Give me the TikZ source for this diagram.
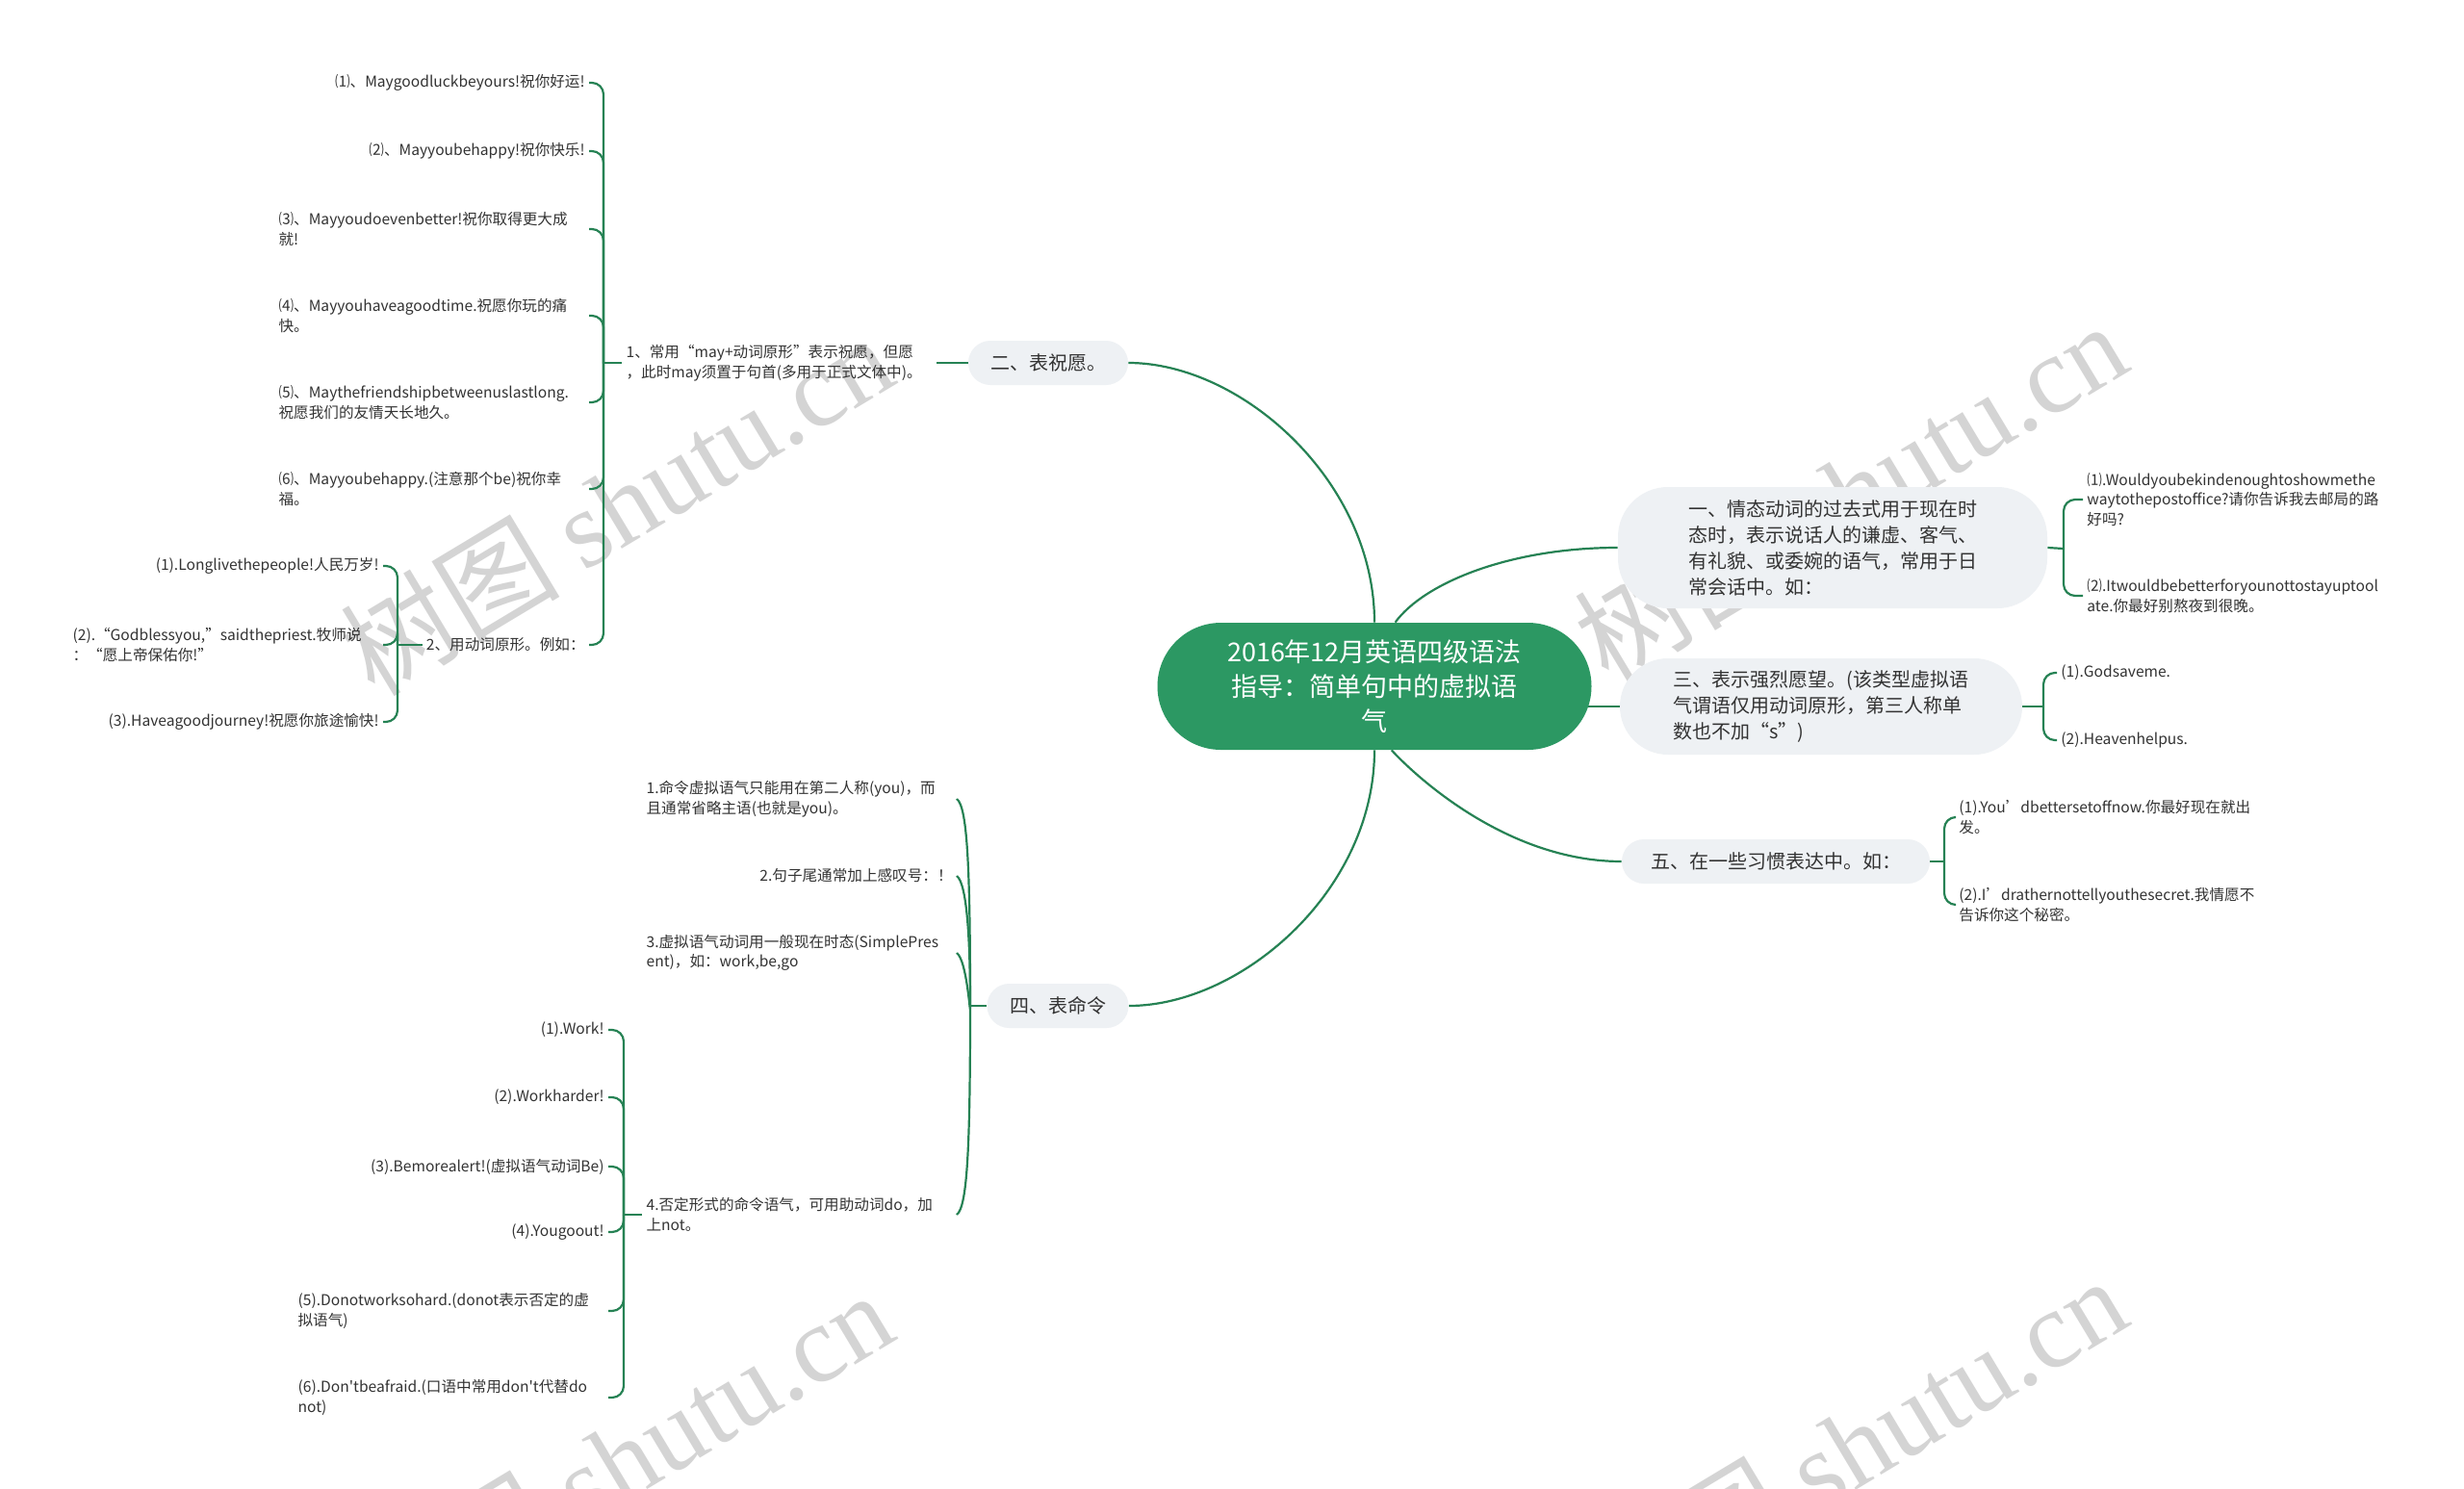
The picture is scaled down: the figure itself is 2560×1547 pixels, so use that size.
\documentclass[tikz,border=0pt]{standalone}
\usepackage{fontspec}
\setmainfont{Noto Sans CJK SC}[Ligatures=TeXOff]
\newfontfamily\wmserif{Liberation Serif}
\usetikzlibrary{calc}
\definecolor{lineG}{RGB}{38,130,84}
\definecolor{rootG}{RGB}{44,152,99}
\definecolor{boxG}{RGB}{238,241,244}
\definecolor{txt}{RGB}{51,51,51}
\definecolor{wmc}{RGB}{212,212,212}
\pgfdeclarelayer{wm}
\pgfdeclarelayer{bg}
\pgfsetlayers{wm,bg,main}
\tikzset{
  conn/.style={draw=lineG, line width=1.1pt},
  hook/.style={draw=lineG, line width=1.1pt, rounded corners=6pt},
  root/.style={fill=rootG, text=white, rounded corners=33pt, minimum width=225.5pt,
    minimum height=66pt, align=center, font=\fontsize{13.5pt}{18pt}\selectfont, inner sep=0pt},
  topic/.style={fill=boxG, text=txt, align=left, font=\fontsize{10pt}{13.5pt}\selectfont, inner sep=0pt},
  leafbase/.style={text=txt, font=\fontsize{7.8pt}{10.25pt}\selectfont, inner sep=2pt},
  sgl/.style={leafbase, anchor=east, align=right},
  wrp/.style={leafbase, anchor=east, text width=159pt, align=left},
  rgt/.style={leafbase, anchor=west, align=left},
  wmark/.style={text=wmc, rotate=31, font=\fontsize{57pt}{60pt}\selectfont, inner sep=0pt},
}
\begin{document}
\begin{tikzpicture}[x=0.5pt, y=-0.5pt]
\useasboundingbox (0,0) rectangle (2560,1547);
\begin{pgfonlayer}{wm}
\fill[white] (0,0) rectangle (2560,1547);
\node[wmark] (w1) at (640,524) {树图 {\wmserif shutu.cn}};
\node[wmark] (w2) at (1922,510) {树图 {\wmserif shutu.cn}};
\node[wmark] (w3) at (640,1517) {树图 {\wmserif shutu.cn}};
\node[wmark] (w4) at (1922,1502) {树图 {\wmserif shutu.cn}};
\end{pgfonlayer}

% root
\node[root] (C) at (1428,713) {2016年12月英语四级语法\\指导：简单句中的虚拟语\\气};

% main topics
\node[topic, minimum width=83pt, minimum height=23pt, rounded corners=11.5pt, align=center] (n2) at (1089,377) {二、表祝愿。};
\node[topic, minimum width=73.5pt, minimum height=23pt, rounded corners=11.5pt, align=center] (n4) at (1099,1045) {四、表命令};
\node[topic, minimum width=223pt, minimum height=63pt, rounded corners=26pt] (n1) at (1904,569) {一、情态动词的过去式用于现在时\\态时，表示说话人的谦虚、客气、\\有礼貌、或委婉的语气，常用于日\\常会话中。如：};
\node[topic, minimum width=209pt, minimum height=50pt, rounded corners=25pt] (n3) at (1892,734) {三、表示强烈愿望。(该类型虚拟语\\气谓语仅用动词原形，第三人称单\\数也不加“s”)};
\node[topic, minimum width=160pt, minimum height=23pt, rounded corners=11.5pt, align=center] (n5) at (1845,895) {五、在一些习惯表达中。如：};

% group under 二
\node[wrp] (a1) at (973,377) {1、常用“may+动词原形”表示祝愿，但愿\\，此时may须置于句首(多用于正式文体中)。};
\node[sgl] (b1) at (612,86) {⑴、Maygoodluckbeyours!祝你好运!};
\node[sgl] (b2) at (612,157) {⑵、Mayyoubehappy!祝你快乐!};
\node[wrp] (b3) at (612,238) {⑶、Mayyoudoevenbetter!祝你取得更大成\\就!};
\node[wrp] (b4) at (612,328) {⑷、Mayyouhaveagoodtime.祝愿你玩的痛\\快。};
\node[wrp] (b5) at (612,418) {⑸、Maythefriendshipbetweenuslastlong.\\祝愿我们的友情天长地久。};
\node[wrp] (b6) at (612,508) {⑹、Mayyoubehappy.(注意那个be)祝你幸\\福。};
\node[sgl] (a2) at (612,670) {2、用动词原形。例如：};
\node[sgl] (c1) at (398,588) {(1).Longlivethepeople!人民万岁!};
\node[wrp] (c2) at (398,670) {(2).“Godblessyou,”saidthepriest.牧师说\\：“愿上帝保佑你!”};
\node[sgl] (c3) at (398,750) {(3).Haveagoodjourney!祝愿你旅途愉快!};

% group under 四
\node[wrp] (d1) at (994,830) {1.命令虚拟语气只能用在第二人称(you)，而\\且通常省略主语(也就是you)。};
\node[sgl] (d2) at (994,910) {2.句子尾通常加上感叹号：！};
\node[wrp] (d3) at (994,990) {3.虚拟语气动词用一般现在时态(SimplePres\\ent)，如：work,be,go};
\node[wrp] (d4) at (994,1262) {4.否定形式的命令语气，可用助动词do，加\\上not。};
\node[sgl] (e1) at (632,1070) {(1).Work!};
\node[sgl] (e2) at (632,1140) {(2).Workharder!};
\node[sgl] (e3) at (632,1212) {(3).Bemorealert!(虚拟语气动词Be)};
\node[sgl] (e4) at (632,1280) {(4).Yougoout!};
\node[wrp] (e5) at (632,1362) {(5).Donotworksohard.(donot表示否定的虚\\拟语气)};
\node[wrp] (e6) at (632,1452) {(6).Don'tbeafraid.(口语中常用don't代替do\\not)};

% right groups
\node[rgt] (f1) at (2164,519) {⑴.Wouldyoubekindenoughtoshowmethe\\waytothepostoffice?请你告诉我去邮局的路\\好吗?};
\node[rgt] (f2) at (2164,619) {⑵.Itwouldbebetterforyounottostayuptool\\ate.你最好别熬夜到很晚。};
\node[rgt] (g1) at (2137,699) {(1).Godsaveme.};
\node[rgt] (g2) at (2137,769) {(2).Heavenhelpus.};
\node[rgt] (h1) at (2031,849) {(1).You’dbettersetoffnow.你最好现在就出\\发。};
\node[rgt] (h2) at (2031,940) {(2).I’drathernottellyouthesecret.我情愿不\\告诉你这个秘密。};

% junctions
\coordinate (JA) at (627,377);
\coordinate (JB) at (413,670);
\coordinate (JD) at (1008,1045);
\coordinate (JE) at (648,1262);
\coordinate (JF) at (2144,570);
\coordinate (JG) at (2123,734);
\coordinate (JH) at (2020,895);

\begin{pgfonlayer}{bg}
% root connectors
\draw[conn] (C.north) .. controls (1428,500) and (1290,377) .. (n2.east);
\draw[conn] (C.south) .. controls (1428,925) and (1290,1045) .. (n4.east);
\draw[conn] (C.72) .. controls (1480,605) and (1570,569) .. (n1.west);
\draw[conn] (C.-75) .. controls (1476,812) and (1570,895) .. (n5.west);
\draw[conn] (C.center |- n3.west) -- (n3.west);
% 二
\draw[conn] (n2.west) -- (a1.east);
\draw[conn] (a1.west) -- (JA);
\foreach \k in {b1,b2,b3,b4,b5,b6,a2} \draw[hook] (JA) |- (\k.east);
\draw[conn] (a2.west) -- (JB);
\foreach \k in {c1,c2,c3} \draw[hook] (JB) |- (\k.east);
% 四 (fan of curves)
\draw[conn] (n4.west) -- (JD);
\foreach \k in {d1,d2,d3}
  \draw[conn] (JD) .. controls ($(JD |- \k.east)+(0,70)$) and ($(\k.east)+(11,8)$) .. (\k.east);
\draw[conn] (JD) .. controls ($(JD |- d4.east)+(0,-70)$) and ($(d4.east)+(11,-8)$) .. (d4.east);
\draw[conn] (d4.west) -- (JE);
\foreach \k in {e1,e2,e3,e4,e5,e6} \draw[hook] (JE) |- (\k.east);
% right
\draw[conn] (n1.east) -- (JF);
\foreach \k in {f1,f2} \draw[hook] (JF) |- (\k.west);
\draw[conn] (n3.east) -- (JG);
\foreach \k in {g1,g2} \draw[hook] (JG) |- (\k.west);
\draw[conn] (n5.east) -- (JH);
\foreach \k in {h1,h2} \draw[hook] (JH) |- (\k.west);
\end{pgfonlayer}
\end{tikzpicture}
\end{document}
